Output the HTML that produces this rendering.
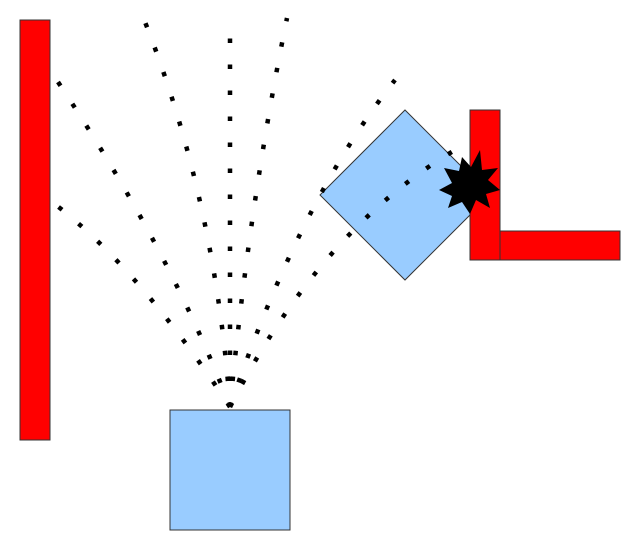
<!DOCTYPE html>
<html><head><style>body{margin:0;background:#fff}svg{display:block}</style></head><body>
<svg width="631" height="544" viewBox="0 0 631 544" xmlns="http://www.w3.org/2000/svg">
<rect x="20" y="20" width="30" height="420" fill="#f00" stroke="#333" stroke-width="1"/>
<rect x="170" y="410" width="120" height="120" fill="#99ccff" stroke="#333" stroke-width="1"/>
<polygon points="405,110 490,195 405,280 320,195" fill="#99ccff" stroke="#333" stroke-width="1"/>
<rect x="470" y="110" width="30" height="150" fill="#f00" stroke="#333" stroke-width="1"/>
<rect x="500" y="231" width="120" height="29" fill="#f00" stroke="#333" stroke-width="1"/>
<g fill="none" stroke="#000" stroke-width="4.5" stroke-dasharray="4.5 21.5">
<path d="M230,407 Q170,250 58,82"/>
<path d="M230,407 Q140,270 56,205"/>
<path d="M230,407 Q215,200 145,22"/>
<path d="M230,407 L230,33"/>
<path d="M230,407 Q250,200 287,18"/>
<path d="M230,407 Q300,200 395,80"/>
<path d="M230,407 Q320,230 455,150"/>
</g>
<polygon fill="#000" points="480,150 482,170 498,168 488,180 500,190 486,194 490,208 476,200 470,214 462,202 448,208 452,196 439,190 452,183 444,168 459,171 462,157 471,167"/>
</svg>
</body></html>
